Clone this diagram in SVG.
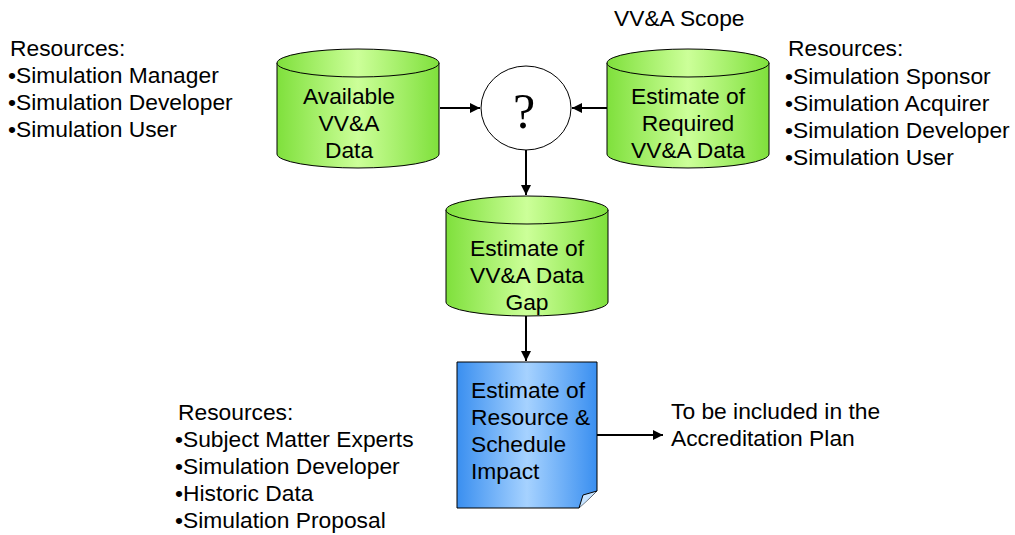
<svg xmlns="http://www.w3.org/2000/svg" width="1015" height="535" viewBox="0 0 1015 535">
<defs>
<linearGradient id="g" x1="0" y1="0" x2="1" y2="0">
<stop offset="0" stop-color="#7fe03c"/>
<stop offset="0.5" stop-color="#ccff99"/>
<stop offset="1" stop-color="#7fe03c"/>
</linearGradient>
<linearGradient id="b" x1="0" y1="0" x2="1" y2="0">
<stop offset="0" stop-color="#3a8ff0"/>
<stop offset="0.5" stop-color="#a6d2ff"/>
<stop offset="1" stop-color="#3a8ff0"/>
</linearGradient>
<marker id="ah" viewBox="0 0 10 10" refX="10" refY="5" markerWidth="5" markerHeight="5" orient="auto" markerUnits="strokeWidth">
<path d="M0,0 L10,5 L0,10 z" fill="#000"/>
</marker>
<style>
text{font-family:"Liberation Sans",Arial,sans-serif;font-size:22.8px;fill:#000}
.c{text-anchor:middle}
.cyl{fill:url(#g);stroke:#000;stroke-width:1}
.top{fill:url(#g);stroke:#000;stroke-width:1}
.ln{stroke:#000;stroke-width:2;fill:none;marker-end:url(#ah)}
</style>
</defs>
<g id="labels">
<text x="614" y="26">VV&amp;A Scope</text>
<text x="10" y="56">Resources:</text>
<text x="8" y="83">•Simulation Manager</text>
<text x="8" y="110">•Simulation Developer</text>
<text x="8" y="137">•Simulation User</text>
<text x="788" y="56">Resources:</text>
<text x="785" y="84">•Simulation Sponsor</text>
<text x="785" y="111">•Simulation Acquirer</text>
<text x="785" y="138">•Simulation Developer</text>
<text x="785" y="165">•Simulation User</text>
<text x="178" y="420">Resources:</text>
<text x="175" y="447">•Subject Matter Experts</text>
<text x="175" y="474">•Simulation Developer</text>
<text x="175" y="501">•Historic Data</text>
<text x="175" y="528">•Simulation Proposal</text>
<text x="671" y="419">To be included in the</text>
<text x="671" y="446">Accreditation Plan</text>
</g>
<g id="connectors">
<line class="ln" x1="440" y1="108" x2="480" y2="108"/>
<line class="ln" x1="607" y1="108" x2="572" y2="108"/>
<line class="ln" x1="526" y1="150" x2="526" y2="195"/>
<line class="ln" x1="526" y1="316" x2="526" y2="361"/>
<line class="ln" x1="597" y1="435" x2="663" y2="435"/>
</g>
<g id="available">
<path class="cyl" d="M277,63 L277,154 A81,14 0 0 0 439,154 L439,63 Z"/>
<ellipse class="top" cx="358" cy="63" rx="81" ry="14"/>
<text class="c" x="349" y="104">Available</text>
<text class="c" x="349" y="131">VV&amp;A</text>
<text class="c" x="349" y="158">Data</text>
</g>
<g id="required">
<path class="cyl" d="M607,63 L607,154 A81,14 0 0 0 769,154 L769,63 Z"/>
<ellipse class="top" cx="688" cy="63" rx="81" ry="14"/>
<text class="c" x="688" y="104">Estimate of</text>
<text class="c" x="688" y="131">Required</text>
<text class="c" x="688" y="158">VV&amp;A Data</text>
</g>
<g id="question">
<ellipse cx="526" cy="108" rx="45" ry="42" fill="#fff" stroke="#000" stroke-width="1"/>
<text class="c" x="524" y="128" style="font-family:'Liberation Serif','Times New Roman',serif;font-size:50px">?</text>
</g>
<g id="gap">
<path class="cyl" d="M446,210 L446,302 A81,14 0 0 0 608,302 L608,210 Z"/>
<ellipse class="top" cx="527" cy="210" rx="81" ry="14"/>
<text class="c" x="527" y="256">Estimate of</text>
<text class="c" x="527" y="283">VV&amp;A Data</text>
<text class="c" x="527" y="310">Gap</text>
</g>
<g id="impact">
<path d="M457,362 L597,362 L597,491 L579,508 L457,508 Z" fill="url(#b)" stroke="#000" stroke-width="1"/>
<path d="M597,491 L583,495 L579,508" fill="#c8e4ff" stroke="#000" stroke-width="1"/>
<text x="471" y="398">Estimate of</text>
<text x="471" y="425">Resource &amp;</text>
<text x="471" y="452">Schedule</text>
<text x="471" y="479">Impact</text>
</g>
</svg>
